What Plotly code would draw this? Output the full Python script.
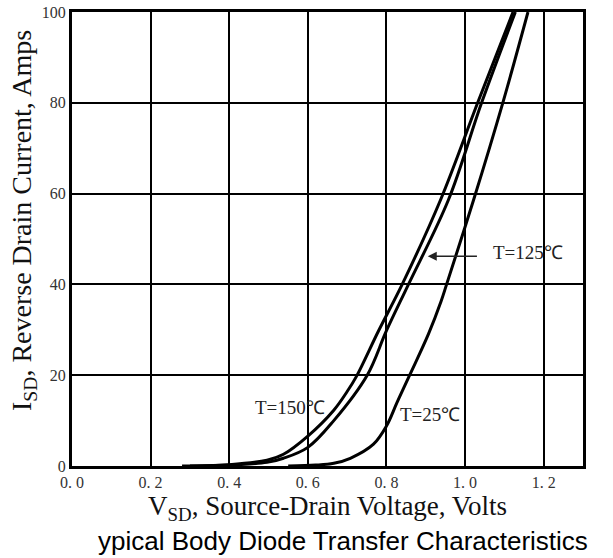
import plotly.graph_objects as go

# Source-drain voltage (V) and reverse drain current (A) for each junction temperature
v_150 = [0.28, 0.40, 0.496, 0.538, 0.60, 0.666, 0.70, 0.724, 0.78, 0.84, 0.938, 1.032, 1.122]
i_150 = [0.0, 0.3, 1.3, 2.6, 6.6, 12.3, 16.4, 19.8, 29.8, 40.0, 58.7, 80.0, 100.0]

v_125 = [0.30, 0.40, 0.496, 0.538, 0.60, 0.666, 0.751, 0.80, 0.856, 0.958, 1.042, 1.128]
i_125 = [0.0, 0.2, 0.8, 1.7, 4.1, 10.0, 20.0, 29.8, 40.0, 58.7, 80.0, 100.0]

v_25 = [0.55, 0.62, 0.666, 0.708, 0.767, 0.80, 0.827, 0.859, 0.907, 0.939, 0.953, 1.022, 1.096, 1.16]
i_25 = [0.0, 0.2, 0.6, 1.7, 4.8, 8.8, 14.0, 20.0, 29.1, 36.3, 40.0, 58.7, 80.0, 100.0]

x_ticks = [0.0, 0.2, 0.4, 0.6, 0.8, 1.0, 1.2]
x_tick_text = ["0. 0", "0. 2", "0. 4", "0. 6", "0. 8", "1. 0", "1. 2"]
y_ticks = [0, 20, 40, 60, 80, 100]

SERIF = "Liberation Serif"
L, R, T, B, W, H = 72, 30, 12, 92, 613, 558
PW, PH = W - L - R, H - T - B


def px_x(px):
    """Page pixel column -> paper x."""
    return (px - L) / PW


def px_y(py):
    """Page pixel row -> paper y."""
    return (H - B - py) / PH


fig = go.Figure()
for vx, iy, name in [(v_150, i_150, "T=150℃"), (v_125, i_125, "T=125℃"), (v_25, i_25, "T=25℃")]:
    fig.add_trace(go.Scatter(
        x=vx, y=iy, mode="lines", name=name,
        line=dict(color="black", width=3, shape="spline", smoothing=1.0),
        showlegend=False, cliponaxis=True,
    ))

axis_common = dict(
    showgrid=True, gridcolor="black", gridwidth=1.5,
    showline=True, linecolor="black", linewidth=3, mirror=True,
    zeroline=False, ticks="", automargin=False,
    tickfont=dict(family=SERIF, size=16, color="#333"),
)

fig.update_xaxes(range=[0, 1.3], tickvals=x_ticks, ticktext=x_tick_text, **axis_common)
fig.update_yaxes(range=[0, 100], tickvals=y_ticks, **axis_common)

label_font = dict(family=SERIF, size=19, color="#222")
annotations = [
    dict(x=0.555, y=12.9, xref="x", yref="y", text="T=150℃", showarrow=False, font=label_font),
    dict(x=0.912, y=11.4, xref="x", yref="y", text="T=25℃", showarrow=False, font=label_font),
    dict(x=1.159, y=47.0, xref="x", yref="y", text="T=125℃", showarrow=False, font=label_font),
    # pointer from the 125 ℃ label to its curve
    dict(x=0.905, y=46.2, xref="x", yref="y", ax=1.034, ay=46.2, axref="x", ayref="y",
         text="", showarrow=True, arrowhead=2, arrowsize=1.2, arrowwidth=1.5,
         arrowcolor="#222"),
    dict(x=px_x(327), y=px_y(508), xref="paper", yref="paper",
         xanchor="center", yanchor="middle",
         text="V<sub>SD</sub>, Source-Drain Voltage, Volts", showarrow=False,
         font=dict(family=SERIF, size=27, color="#111")),
    dict(x=px_x(23), y=px_y(221), xref="paper", yref="paper", textangle=-90,
         xanchor="center", yanchor="middle",
         text="I<sub>SD</sub>, Reverse Drain Current, Amps", showarrow=False,
         font=dict(family=SERIF, size=28, color="#111")),
    dict(x=px_x(96), y=px_y(541), xref="paper", yref="paper",
         xanchor="left", yanchor="middle",
         text="ypical Body Diode Transfer Characteristics", showarrow=False,
         font=dict(family="Liberation Sans", size=26, color="black")),
]

fig.update_layout(
    width=W, height=H,
    margin=dict(l=L, r=R, t=T, b=B, autoexpand=False),
    plot_bgcolor="white", paper_bgcolor="white",
    annotations=annotations,
)

fig.write_html("out.html")
